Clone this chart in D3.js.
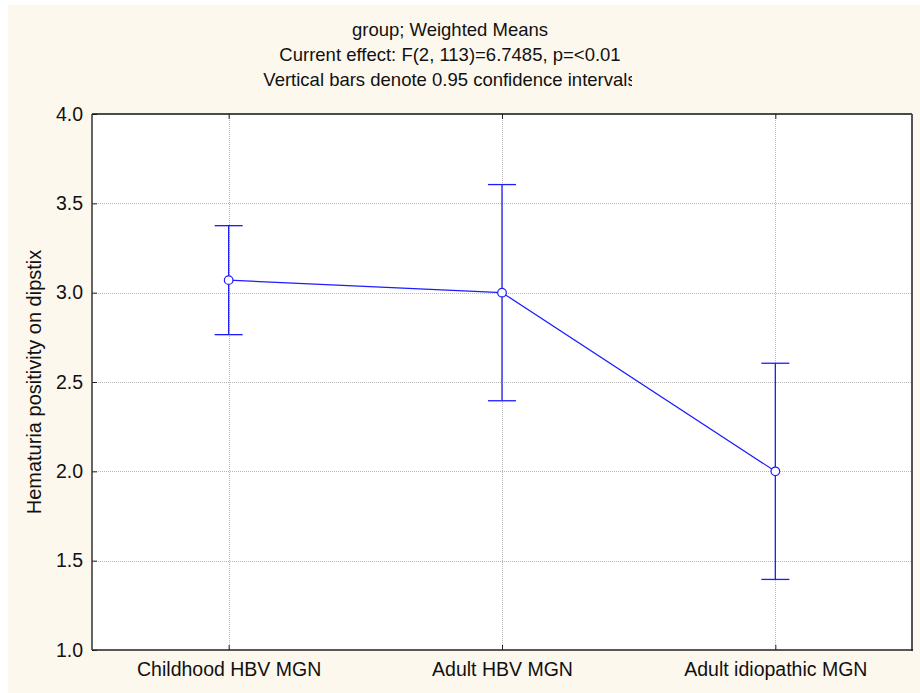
<!DOCTYPE html>
<html>
<head>
<meta charset="utf-8">
<script src="https://cdn.jsdelivr.net/npm/d3@7"></script>
<style>
  html, body { margin: 0; padding: 0; background: #ffffff; }
  svg { display: block; }
  text { font-family: "Liberation Sans", Arial, Helvetica, sans-serif; fill: #111; }
</style>
</head>
<body>
<svg id="chart" width="920" height="693"></svg>
<script>
// Group means with 0.95 confidence limits
const groups = ["Childhood HBV MGN", "Adult HBV MGN", "Adult idiopathic MGN"];
const means = [3.07, 3.00, 2.00];
const lowerCI = [2.765, 2.395, 1.395];
const upperCI = [3.375, 3.605, 2.605];
const yTicks = [1.0, 1.5, 2.0, 2.5, 3.0, 3.5, 4.0];
const titleLines = [
  "group; Weighted Means",
  "Current effect: F(2, 113)=6.7485, p=<0.01",
  "Vertical bars denote 0.95 confidence intervals"
];
const yLabel = "Hematuria positivity on dipstix";

const svg = d3.select("#chart");
const W = 920, H = 693;
const plot = { left: 92, top: 114, right: 912, bottom: 650 };
const blue = "#1c1cff";
const tickFs = "19.5px";

// cream page panel
svg.append("rect").attr("x", 8).attr("y", 5).attr("width", W - 8).attr("height", H - 5)
  .attr("fill", "#fdf8ee");

// plot area
svg.append("rect").attr("x", plot.left).attr("y", plot.top)
  .attr("width", plot.right - plot.left).attr("height", plot.bottom - plot.top)
  .attr("fill", "#ffffff");

const x = d3.scalePoint().domain(groups).range([plot.left, plot.right]).padding(0.5);
const y = d3.scaleLinear().domain([1, 4]).range([plot.bottom, plot.top]);

// grid lines
const grid = svg.append("g").attr("stroke", "#b8b8b8").attr("stroke-width", 1)
  .attr("stroke-dasharray", "1,1");
grid.selectAll("line.h").data(yTicks.filter(t => t > 1 && t < 4)).join("line")
  .attr("x1", plot.left).attr("x2", plot.right)
  .attr("y1", d => Math.round(y(d)) + 0.5).attr("y2", d => Math.round(y(d)) + 0.5);
grid.selectAll("line.v").data(groups).join("line")
  .attr("y1", plot.top).attr("y2", plot.bottom)
  .attr("x1", d => Math.round(x(d)) + 0.5).attr("x2", d => Math.round(x(d)) + 0.5);

// axes with inward ticks
const yAxis = d3.axisLeft(y).tickValues(yTicks).tickFormat(d3.format(".1f"))
  .tickSizeInner(-5).tickSizeOuter(0).tickPadding(9);
const gy = svg.append("g").attr("transform", `translate(${plot.left},0)`).call(yAxis);
gy.select(".domain").remove();
gy.selectAll(".tick line").attr("stroke", "#222");
gy.selectAll(".tick text").style("font-size", tickFs).attr("fill", "#111")
  .style("font-family", "'Liberation Sans', Arial, sans-serif");

const xAxis = d3.axisBottom(x).tickSizeInner(-5).tickSizeOuter(0).tickPadding(12);
const gx = svg.append("g").attr("transform", `translate(0,${plot.bottom})`).call(xAxis);
gx.select(".domain").remove();
gx.selectAll(".tick line").attr("stroke", "#222");
gx.selectAll(".tick text").style("font-size", tickFs).attr("fill", "#111")
  .style("font-family", "'Liberation Sans', Arial, sans-serif");

const xTop = d3.axisTop(x).tickSizeInner(-5).tickSizeOuter(0).tickFormat("");
const gxt = svg.append("g").attr("transform", `translate(0,${plot.top})`).call(xTop);
gxt.select(".domain").remove();
gxt.selectAll(".tick line").attr("stroke", "#222");

// frame: dark top/left, heavier grey right/bottom
svg.append("line").attr("x1", plot.left).attr("x2", plot.right).attr("y1", plot.top).attr("y2", plot.top)
  .attr("stroke", "#111").attr("stroke-width", 1.5);
svg.append("line").attr("x1", plot.left).attr("x2", plot.left).attr("y1", plot.top).attr("y2", plot.bottom)
  .attr("stroke", "#333").attr("stroke-width", 1.5);
svg.append("line").attr("x1", plot.right).attr("x2", plot.right).attr("y1", plot.top).attr("y2", plot.bottom + 1)
  .attr("stroke", "#555").attr("stroke-width", 2);
svg.append("line").attr("x1", plot.left).attr("x2", plot.right + 1).attr("y1", plot.bottom).attr("y2", plot.bottom)
  .attr("stroke", "#222").attr("stroke-width", 1.5);

// error bars
const eb = svg.append("g").attr("stroke", blue).attr("stroke-width", 1.3);
groups.forEach((g, i) => {
  const cx = x(g);
  eb.append("line").attr("x1", cx).attr("x2", cx).attr("y1", y(lowerCI[i])).attr("y2", y(upperCI[i]));
  eb.append("line").attr("x1", cx - 14).attr("x2", cx + 14).attr("y1", y(upperCI[i])).attr("y2", y(upperCI[i]));
  eb.append("line").attr("x1", cx - 14).attr("x2", cx + 14).attr("y1", y(lowerCI[i])).attr("y2", y(lowerCI[i]));
});

// mean line
const pts = groups.map((g, i) => [x(g), y(means[i])]);
svg.append("path").attr("d", d3.line()(pts)).attr("fill", "none")
  .attr("stroke", blue).attr("stroke-width", 1.2);

// mean markers
svg.selectAll("circle.m").data(pts).join("circle")
  .attr("cx", d => d[0]).attr("cy", d => d[1]).attr("r", 4.3)
  .attr("fill", "#ffffff").attr("stroke", blue).attr("stroke-width", 1.2);

// titles (last line is clipped at its right end)
svg.append("clipPath").attr("id", "titleClip")
  .append("rect").attr("x", 0).attr("y", 0).attr("width", 632).attr("height", 110);
const tg = svg.append("g").attr("clip-path", "url(#titleClip)");
titleLines.forEach((t, i) => {
  tg.append("text").attr("x", 450).attr("y", 36 + i * 25)
    .attr("text-anchor", "middle").style("font-size", "18.5px").text(t);
});

// y axis label
svg.append("text")
  .attr("transform", `translate(41,${(plot.top + plot.bottom) / 2}) rotate(-90)`)
  .attr("text-anchor", "middle").style("font-size", "20px").text(yLabel);
</script>
</body>
</html>
